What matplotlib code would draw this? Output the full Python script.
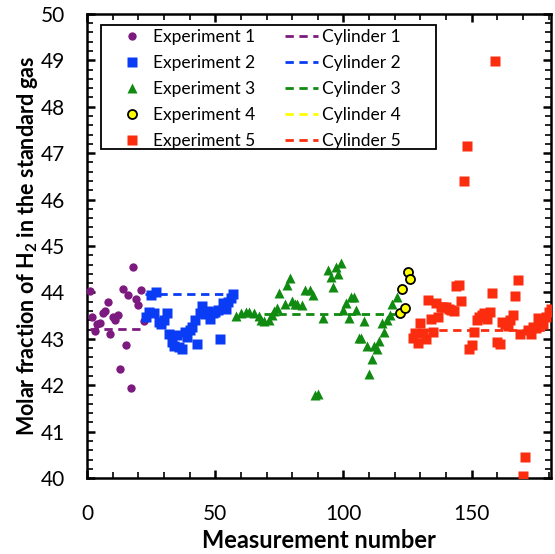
import matplotlib
matplotlib.use('Agg')
import matplotlib.pyplot as plt
from matplotlib.ticker import MultipleLocator
from matplotlib.patches import Rectangle

# values
exp1_x = list(range(1, 23))
exp1_y = [44.02, 43.46, 43.17, 43.32, 43.35, 43.55, 43.60, 43.80, 43.11, 43.46, 43.40,
          43.52, 42.35, 44.07, 42.86, 43.94, 41.94, 44.55, 43.85, 43.72, 44.05, 43.39]

exp2_x = list(range(23, 58))
exp2_y = [43.47, 43.58, 43.94, 43.55, 44.01, 43.37, 43.33, 43.40, 43.56, 43.10, 42.93,
          42.85, 43.08, 42.82, 42.79, 43.15, 43.04, 43.19, 43.25, 43.40, 42.88, 43.55,
          43.70, 43.54, 43.60, 43.42, 43.55, 43.58, 43.62, 43.00, 43.77, 43.65, 43.80,
          43.88, 43.96]

exp3_x = [58, 60, 62, 63, 65, 67, 68, 69, 71, 72, 73, 74, 75, 77, 78, 79, 80, 81, 82, 84,
          85, 87, 88, 89, 90, 92, 94, 95, 96, 97, 98, 99, 100, 101, 102, 103, 104, 105,
          106, 107, 108, 109, 110, 111, 112, 113, 114, 115, 116, 117, 118, 119, 121]
exp3_y = [43.50, 43.55, 43.57, 43.58, 43.56, 43.50, 43.40, 43.38, 43.40, 43.51, 43.60,
          43.67, 43.98, 43.76, 44.15, 44.31, 43.82, 43.76, 43.74, 43.72, 44.05, 44.05,
          43.94, 41.80, 41.82, 43.44, 44.48, 44.33, 44.12, 44.55, 44.39, 44.64, 43.62,
          43.78, 43.45, 43.90, 43.90, 43.62, 43.01, 43.02, 43.38, 42.84, 42.25, 42.56,
          42.84, 42.78, 42.95, 43.34, 43.15, 43.40, 43.51, 43.76, 43.90]

exp4_x = [122, 123, 124, 125, 126]
exp4_y = [43.55, 44.07, 43.67, 44.43, 44.28]

exp5_x = list(range(127, 182))
exp5_y = [43.01, 43.13, 42.91, 43.34, 43.13, 42.99, 43.83, 43.42, 43.15, 43.77, 43.47,
          43.69, 43.69, 43.69, 43.65, 43.63, 43.60, 44.13, 44.15, 43.82, 46.39, 47.15,
          42.79, 42.86, 43.15, 43.40, 43.47, 43.51, 43.55, 43.42, 43.58, 43.99, 48.98,
          42.93, 42.88, 43.37, 43.33, 43.27, 43.40, 43.52, 43.92, 44.26, 43.11, 40.05,
          40.45, 43.20, 43.11, 43.26, 43.24, 43.44, 43.37, 43.33, 43.47, 43.58, 43.65]

cyl_start = [1, 22.5, 69, 122, 126.5]
cyl_end = [22, 57, 120, 124.5, 181]
cyl_value = [43.22, 43.97, 43.53, 44.02, 43.18]

colors = ['#7d1a80', '#0a3cf5', '#118a11', '#ffff00', '#fb2d0e']

plt.rcParams['font.family'] = ['Lato', 'DejaVu Sans']
plt.rcParams['mathtext.fontset'] = 'custom'
plt.rcParams['mathtext.rm'] = 'Lato:bold'

fig = plt.figure(figsize=(5.55, 5.54), dpi=100)
ax = fig.add_axes([0.157, 0.137, 0.836, 0.838])

h1, = ax.plot(exp1_x, exp1_y, 'o', color=colors[0], ms=6, mec='none', label='Experiment 1', zorder=3)
h2, = ax.plot(exp2_x, exp2_y, 's', color=colors[1], ms=6.5, mec='none', label='Experiment 2', zorder=3)
h3, = ax.plot(exp3_x, exp3_y, '^', color=colors[2], ms=6.5, mec='none', label='Experiment 3', zorder=3)
h4, = ax.plot(exp4_x, exp4_y, 'o', color=colors[3], ms=6.5, mec='black', mew=1.3, label='Experiment 4', zorder=4)
h5, = ax.plot(exp5_x, exp5_y, 's', color=colors[4], ms=6.5, mec='none', label='Experiment 5', zorder=3)

cyl_handles = []
for i in range(5):
    ln, = ax.plot([cyl_start[i], cyl_end[i]], [cyl_value[i], cyl_value[i]], '--',
                  color=colors[i], lw=2, dashes=(3, 2), label='Cylinder %d' % (i + 1), zorder=2)
    cyl_handles.append(ln)

ax.set_xlim(0, 181)
ax.set_ylim(40, 50)
ax.xaxis.set_major_locator(MultipleLocator(50))
ax.xaxis.set_minor_locator(MultipleLocator(10))
ax.yaxis.set_major_locator(MultipleLocator(1))
ax.yaxis.set_minor_locator(MultipleLocator(0.2))
ax.tick_params(which='both', direction='in', top=True, right=True, labelsize=15, width=1.2)
ax.tick_params(which='major', length=6, width=1.8)
ax.tick_params(which='minor', length=4)
ax.tick_params(axis='x', pad=19)
ax.tick_params(axis='y', pad=16)
for s in ax.spines.values():
    s.set_linewidth(1.8)

ax.set_xlabel('Measurement number', fontsize=17, fontweight='bold', labelpad=3)
ax.set_ylabel(r'Molar fraction of H$_2$ in the standard gas', fontsize=15.5, fontweight='bold', labelpad=0.5)

# legend box drawn by hand, Excel leaves a wide margin on the right
ax.add_patch(Rectangle((0.0302, 0.708), 0.722, 0.269, transform=ax.transAxes,
                       facecolor='white', edgecolor='black', lw=1.3, zorder=4.8))
leg = ax.legend([h1, h2, h3, h4, h5] + cyl_handles,
                ['Experiment %d' % i for i in range(1, 6)] + ['Cylinder %d' % i for i in range(1, 6)],
                ncol=2, loc='upper left', bbox_to_anchor=(0.0614, 0.967), borderaxespad=0,
                borderpad=0, frameon=False, fontsize=12.5,
                labelspacing=0.58, handlelength=1.9, handletextpad=0.23, columnspacing=1.72)
leg.set_zorder(5)

fig.savefig('out.png', dpi=100)
